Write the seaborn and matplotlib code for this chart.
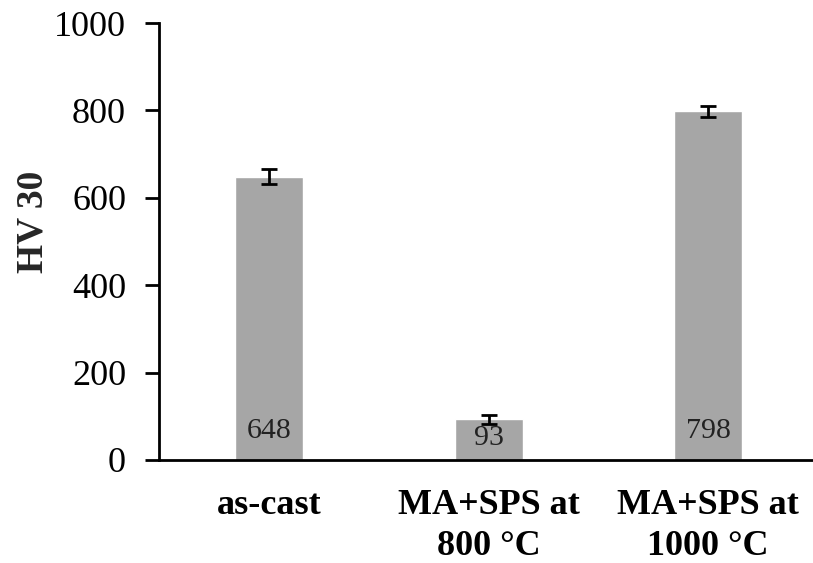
import matplotlib
matplotlib.use("Agg")
import matplotlib.pyplot as plt
import matplotlib.transforms as mtransforms
import pandas as pd
import seaborn as sns

categories = ["as-cast", "MA+SPS at\n800 °C", "MA+SPS at\n1000 °C"]
hardness = [648, 93, 798]
errors = [17, 11, 12]
labels = ["648", "93", "798"]

sns.set_style("white")
plt.rcParams['font.family'] = ['Liberation Serif', 'DejaVu Serif']

df = pd.DataFrame({"sample": categories, "HV": hardness})

fig = plt.figure(figsize=(8.13, 5.63), dpi=100)
ax = fig.add_axes([0.196, 0.183, 0.81, 0.776])

sns.barplot(data=df, x="sample", y="HV", color="#a6a6a6", width=0.31,
            saturation=1, errorbar=None, ax=ax)
ax.errorbar(range(len(hardness)), hardness, yerr=errors, fmt="none",
            ecolor="black", elinewidth=2, capsize=6, capthick=2)

ax.set_ylim(0, 1000)
ax.set_yticks(range(0, 1001, 200))
ax.set_xlim(-0.5, 2.5)

# value labels near the base of each bar; short bars get it just under the top
base = mtransforms.offset_copy(ax.transData, fig=fig, x=0, y=16, units="dots")
top = mtransforms.offset_copy(ax.transData, fig=fig, x=0, y=-6, units="dots")
for i, (lab, v) in enumerate(zip(labels, hardness)):
    if v < 150:
        ax.text(i, v, lab, ha="center", va="top", fontsize=21.5,
                color="#222222", transform=top)
    else:
        ax.text(i, 0, lab, ha="center", va="bottom", fontsize=21.5,
                color="#222222", transform=base)

ax.set_xlabel("")
ax.set_ylabel("HV 30", fontsize=27, fontweight="bold")
ax.yaxis.set_label_coords(-0.166, 0.545)
ax.tick_params(axis="y", which="major", direction="out", length=10, width=2,
               labelsize=26, left=True, pad=14, color="black", labelcolor="black")
ax.tick_params(axis="x", length=0, labelsize=26, pad=21, labelcolor="black")
for t in ax.get_xticklabels():
    t.set_fontweight("bold")
    t.set_linespacing(1.3)

sns.despine(ax=ax)
ax.spines["left"].set_linewidth(2)
ax.spines["bottom"].set_linewidth(2)
ax.spines["left"].set_color("black")
ax.spines["bottom"].set_color("black")

fig.savefig("out.png", dpi=100)
